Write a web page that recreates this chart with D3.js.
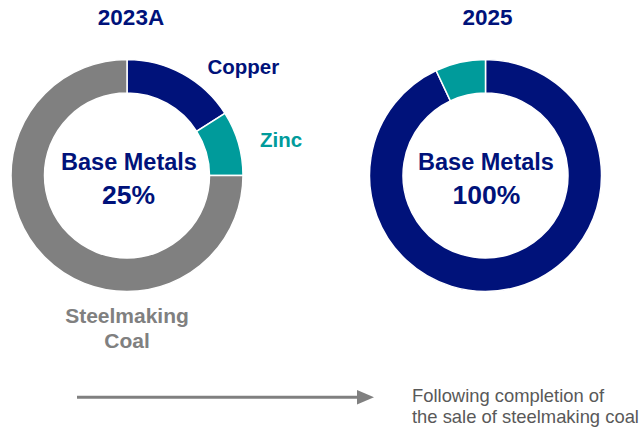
<!DOCTYPE html>
<html>
<head>
<meta charset="utf-8">
<script src="https://cdn.jsdelivr.net/npm/d3@7/dist/d3.min.js"></script>
<style>
  html, body { margin: 0; padding: 0; background: #fff; }
  svg { display: block; font-family: "Liberation Sans", Arial, sans-serif; }
</style>
</head>
<body>
<svg id="chart" width="643" height="431"></svg>
<script>
// ---- Data ----
const titles = ["2023A", "2025"];
const categories2023 = ["Copper", "Zinc", "Steelmaking Coal"];
const values2023 = [16, 9, 75];
const categories2025 = ["Copper", "Zinc"];
const values2025 = [93, 7];
const centerLabels = ["Base Metals", "Base Metals"];
const centerValues = ["25%", "100%"];
const noteLines = ["Following completion of", "the sale of steelmaking coal"];

const colors = { "Copper": "#00127a", "Zinc": "#009b9b", "Steelmaking Coal": "#808080" };
const navy = "#00127a";

const svg = d3.select("#chart");
const outerR = 116, innerR = 82.5;
const cy = 175.5;
const centers = [127, 485.5];

const pie = d3.pie().sort(null).value(d => d.v);
const arc = d3.arc().innerRadius(innerR).outerRadius(outerR);

const datasets = [
  categories2023.map((c, i) => ({ c, v: values2023[i] })),
  categories2025.map((c, i) => ({ c, v: values2025[i] }))
];

datasets.forEach((data, k) => {
  const g = svg.append("g").attr("transform", `translate(${centers[k]},${cy})`);
  g.selectAll("path").data(pie(data)).join("path")
    .attr("d", arc)
    .attr("fill", d => colors[d.data.c])
    .attr("stroke", "#fff")
    .attr("stroke-width", 1.5);

  svg.append("text").attr("x", centers[k] + (k ? 2 : 4)).attr("y", 25)
    .attr("text-anchor", "middle").attr("font-size", 22.5).attr("font-weight", "bold")
    .attr("fill", navy).text(titles[k]);

  svg.append("text").attr("x", centers[k] + (k ? 0.5 : 2)).attr("y", 170)
    .attr("text-anchor", "middle").attr("font-size", 23.5).attr("font-weight", "bold")
    .attr("fill", navy).text(centerLabels[k]);
  svg.append("text").attr("x", centers[k] + (k ? 1 : 1.5)).attr("y", 204)
    .attr("text-anchor", "middle").attr("font-size", 26.5).attr("font-weight", "bold")
    .attr("fill", navy).text(centerValues[k]);
});

// Outer labels for 2023A
svg.append("text").attr("x", 207.5).attr("y", 74)
  .attr("font-size", 20.5).attr("font-weight", "bold").attr("fill", colors["Copper"]).text("Copper");
svg.append("text").attr("x", 260).attr("y", 146.5)
  .attr("font-size", 20.5).attr("font-weight", "bold").attr("fill", colors["Zinc"]).text("Zinc");
const coalLabel = svg.append("text").attr("text-anchor", "middle")
  .attr("font-size", 21).attr("font-weight", "bold").attr("fill", colors["Steelmaking Coal"]);
coalLabel.append("tspan").attr("x", 127).attr("y", 322.5).text("Steelmaking");
coalLabel.append("tspan").attr("x", 127).attr("y", 347.5).text("Coal");

// Arrow
svg.append("line").attr("x1", 77).attr("x2", 358).attr("y1", 397.3).attr("y2", 397.3)
  .attr("stroke", "#808080").attr("stroke-width", 3);
svg.append("path").attr("d", "M357,390 L374,397.3 L357,404.6 Z").attr("fill", "#808080");

// Note
const note = svg.append("text").attr("font-size", 18.4).attr("fill", "#595959");
noteLines.forEach((t, i) => {
  note.append("tspan").attr("x", 412).attr("y", 401.5 + i * 21.7).text(t);
});
</script>
</body>
</html>
